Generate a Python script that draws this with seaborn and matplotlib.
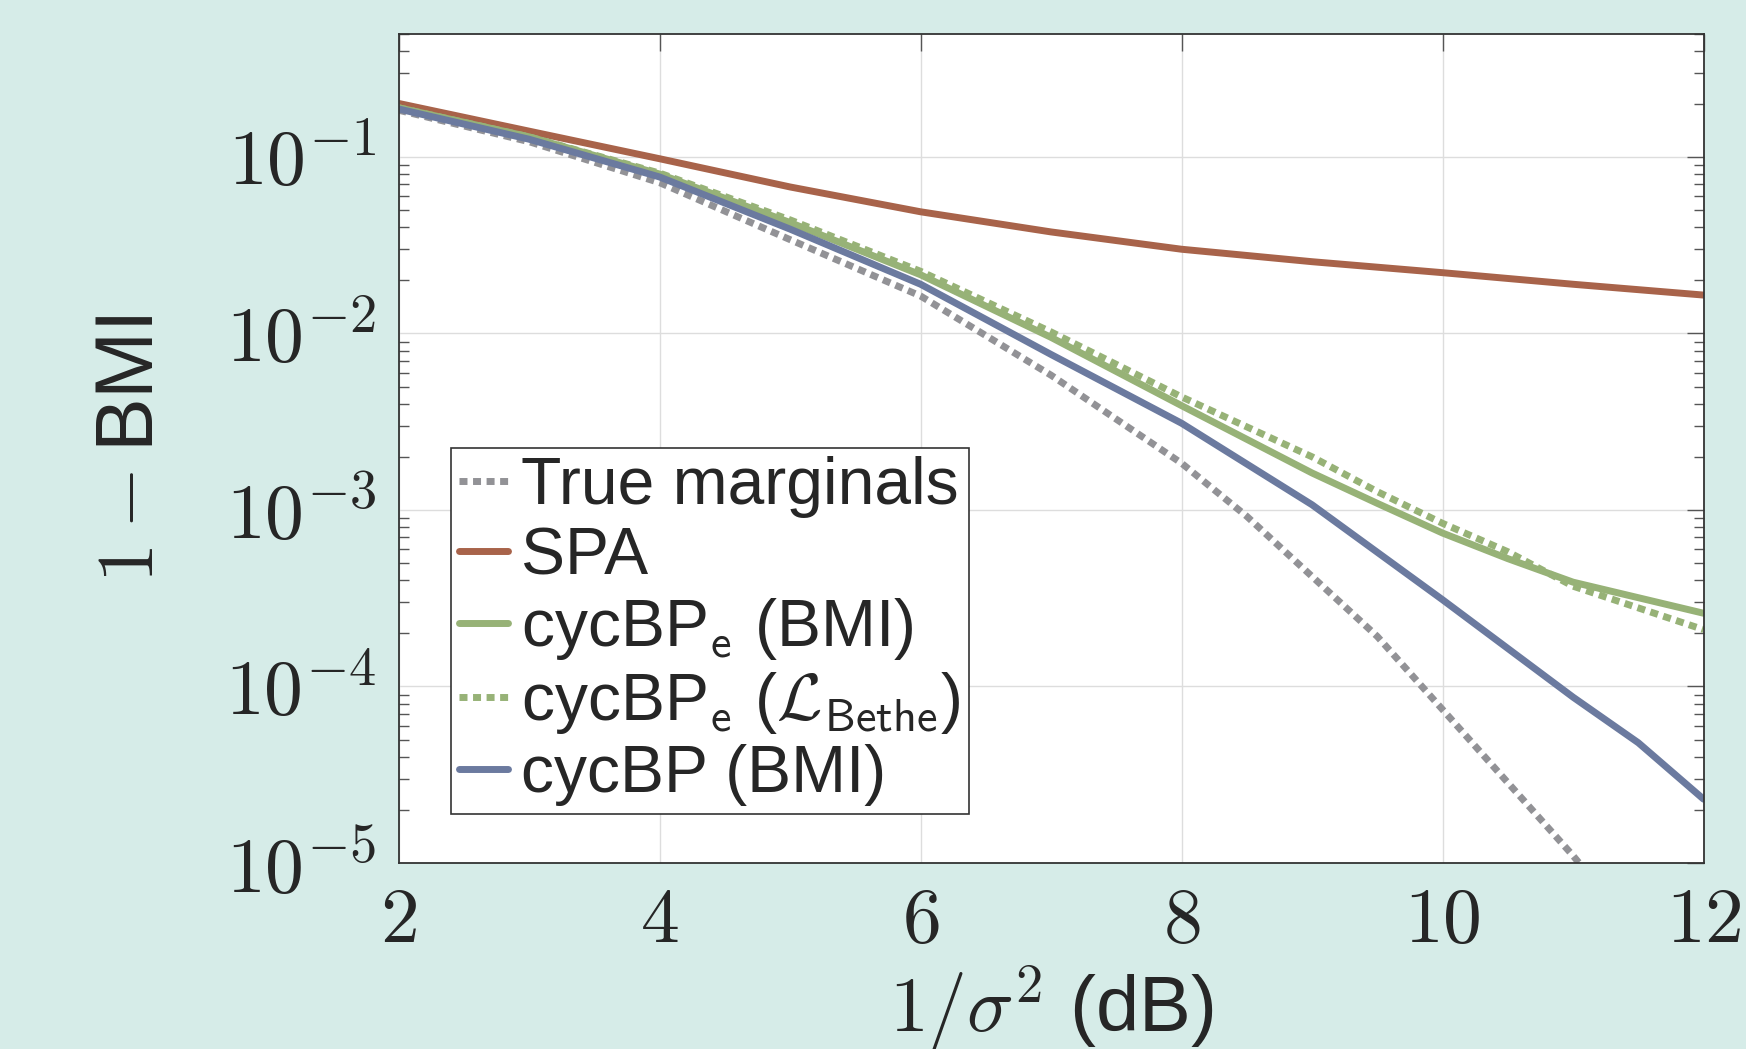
import numpy as np
import pandas as pd
import matplotlib
matplotlib.use("Agg")
import matplotlib.pyplot as plt
import matplotlib.ticker as mticker
import seaborn as sns

# values (1/sigma^2 in dB vs 1 - BMI)
snr_true = [2, 3, 4, 5, 6, 7, 8, 8.5, 9, 9.5, 10, 11, 12]
true_marginals = [0.184, 0.122, 0.0715, 0.034, 0.0163, 5.8e-3, 1.84e-3, 9.2e-4, 4.2e-4, 1.92e-4, 7.4e-5, 1.1e-5, 1.4e-6]
snr_spa = [2, 3, 4, 5, 6, 7, 8, 9, 10, 11, 12]
spa = [0.201, 0.14, 0.0977, 0.0676, 0.0489, 0.0376, 0.030, 0.0255, 0.0221, 0.019, 0.0165]
snr_cyc = [2, 3, 4, 5, 6, 7, 8, 9, 9.5, 10, 10.5, 11, 12]
cycbpe_bmi = [0.19, 0.13, 0.080, 0.0425, 0.0215, 9.5e-3, 3.9e-3, 1.62e-3, 1.09e-3, 7.4e-4, 5.3e-4, 3.9e-4, 2.6e-4]
cycbpe_bethe = [0.19, 0.13, 0.081, 0.044, 0.0225, 0.0102, 4.37e-3, 2.0e-3, 1.27e-3, 8.4e-4, 5.8e-4, 3.7e-4, 2.1e-4]
snr_cycbp = [2, 3, 4, 5, 6, 7, 8, 9, 10, 11, 11.5, 12]
cycbp_bmi = [0.187, 0.126, 0.077, 0.039, 0.019, 7.6e-3, 3.1e-3, 1.07e-3, 3.1e-4, 8.7e-5, 4.8e-5, 2.3e-5]

labels = ['True marginals', 'SPA', r'cycBP$_\mathsf{e}$ (BMI)',
          r'cycBP$_\mathsf{e}$ ($\mathcal{L}_\mathsf{Bethe}$)', 'cycBP (BMI)']
colors = ['#929296', '#a8634a', '#97b277', '#97b277', '#6b7a9f']
dots = (1.15, 0.8)

bg = '#d6ece8'
sns.set_style('white')
plt.rcParams['font.family'] = ['Liberation Sans', 'DejaVu Sans']
plt.rcParams['mathtext.fontset'] = 'cm'

fig = plt.figure(figsize=(17.46, 10.49), dpi=100, facecolor=bg)
ax = fig.add_axes([0.2283, 0.1773, 0.7474, 0.7907])
ax.set_facecolor('white')

series = [(snr_true, true_marginals, dots), (snr_spa, spa, None), (snr_cyc, cycbpe_bmi, None),
          (snr_cyc, cycbpe_bethe, dots), (snr_cycbp, cycbp_bmi, None)]
for (xs, ys, dash), lab, col in zip(series, labels, colors):
    df = pd.DataFrame({'snr': xs, 'val': ys})
    sns.lineplot(data=df, x='snr', y='val', ax=ax, color=col, linewidth=5,
                 label=lab, legend=False)
    if dash is not None:
        ax.lines[-1].set_dashes(dash)
        ax.lines[-1].set_dash_capstyle('butt')

ax.set_yscale('log')
ax.set_xlim(2, 12)
ax.set_ylim(1e-5, 0.5)
ax.set_xticks([2, 4, 6, 8, 10, 12])
ax.xaxis.set_major_formatter(mticker.FuncFormatter(lambda v, p: r'$%d$' % v))
ax.yaxis.set_major_locator(mticker.LogLocator(base=10, numticks=10))
ax.yaxis.set_minor_locator(mticker.LogLocator(base=10, subs=np.arange(2, 10), numticks=20))
ax.yaxis.set_major_formatter(mticker.FuncFormatter(lambda v, p: r'$10^{%d}$' % round(np.log10(v))))
ax.yaxis.set_minor_formatter(mticker.NullFormatter())

ax.tick_params(which='major', direction='in', length=12, width=1, color='#555555',
               top=True, right=True, labelsize=56, pad=16)
ax.tick_params(which='minor', direction='in', length=7, width=1, color='#555555',
               left=True, right=True)
ax.grid(True, which='major', color='#dddddd', linewidth=1)
for s in ax.spines.values():
    s.set_color('#333333')
    s.set_linewidth(1.3)

ax.set_xlabel(r'$1/\sigma^2$ (dB)', fontsize=56, labelpad=4)
ax.set_ylabel(r'$1-$BMI', fontsize=58, labelpad=40)

leg = ax.legend(loc='upper left', bbox_to_anchor=(0.04, 0.5), fontsize=47.5, frameon=True,
                fancybox=False, edgecolor='#333333', framealpha=1, handlelength=0.75,
                handletextpad=0.2, labelspacing=0.12, borderpad=0.12, borderaxespad=0)
leg.get_frame().set_linewidth(1.2)

fig.savefig('out.png', dpi=100, facecolor=bg)
